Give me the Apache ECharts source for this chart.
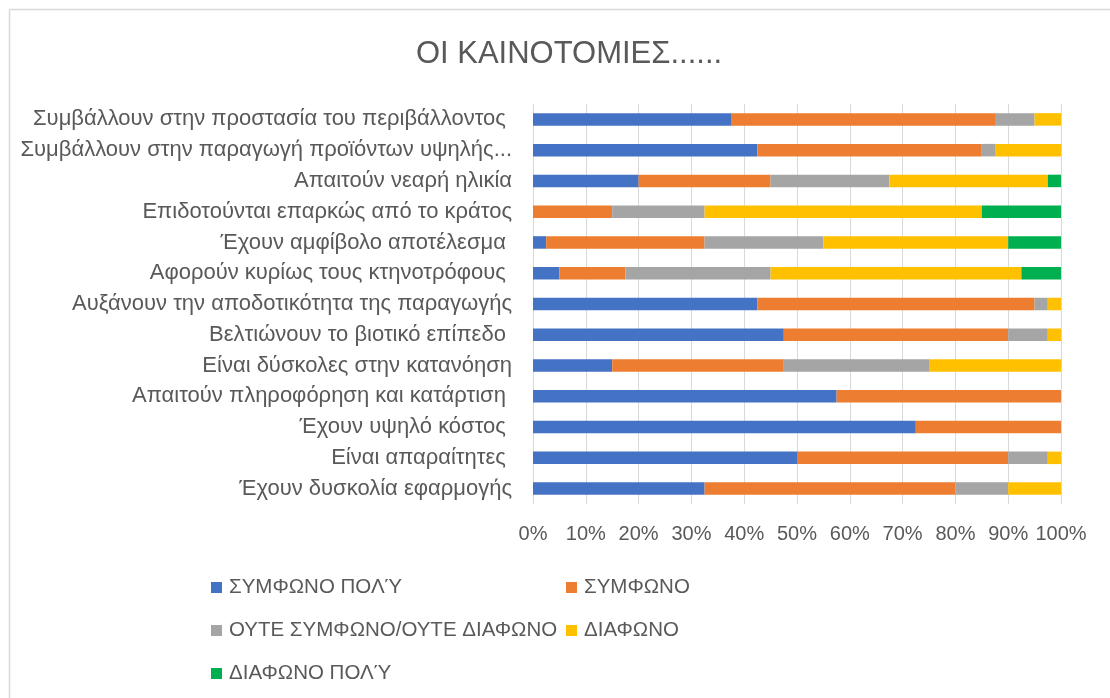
<!DOCTYPE html>
<html>
<head>
<meta charset="utf-8">
<script src="https://cdn.jsdelivr.net/npm/echarts@6/dist/echarts.min.js"></script>
<style>
html, body { margin: 0; padding: 0; background: #fff; }
#main { width: 1110px; height: 698px; }
</style>
</head>
<body>
<div id="main"></div>
<script>
// κατηγορίες (από πάνω προς τα κάτω)
const categories = [
    'Συμβάλλουν στην προστασία του περιβάλλοντος ',
    'Συμβάλλουν στην παραγωγή προϊόντων υψηλής...',
    'Απαιτούν νεαρή ηλικία',
    'Επιδοτούνται επαρκώς από το κράτος',
    'Έχουν αμφίβολο αποτέλεσμα ',
    'Αφορούν κυρίως τους κτηνοτρόφους ',
    'Αυξάνουν την αποδοτικότητα της παραγωγής',
    'Βελτιώνουν το βιοτικό επίπεδο ',
    'Είναι δύσκολες στην κατανόηση',
    'Απαιτούν πληροφόρηση και κατάρτιση ',
    'Έχουν υψηλό κόστος ',
    'Είναι απαραίτητες ',
    'Έχουν δυσκολία εφαρμογής'
]
const seriesNames = ['ΣΥΜΦΩΝΟ ΠΟΛΎ', 'ΣΥΜΦΩΝΟ', 'ΟΥΤΕ ΣΥΜΦΩΝΟ/ΟΥΤΕ ΔΙΑΦΩΝΟ', 'ΔΙΑΦΩΝΟ', 'ΔΙΑΦΩΝΟ ΠΟΛΎ']
const colors = ['#4472C4', '#ED7D31', '#A5A5A5', '#FFC000', '#00B050']

// ποσοστά (%)
const symfonoPoly = [37.5, 42.5, 20, 0, 2.5, 5, 42.5, 47.5, 15, 57.5, 72.5, 50, 32.5]
const symfono = [50, 42.5, 25, 15, 30, 12.5, 52.5, 42.5, 32.5, 42.5, 27.5, 40, 47.5]
const oute = [7.5, 2.5, 22.5, 17.5, 22.5, 27.5, 2.5, 7.5, 27.5, 0, 0, 7.5, 10]
const diafono = [5, 12.5, 30, 52.5, 35, 47.5, 2.5, 2.5, 25, 0, 0, 2.5, 10]
const diafonoPoly = [0, 0, 2.5, 15, 10, 7.5, 0, 0, 0, 0, 0, 0, 0]
const xTicks = [0, 10, 20, 30, 40, 50, 60, 70, 80, 90, 100]

const values = [symfonoPoly, symfono, oute, diafono, diafonoPoly]
const textColor = '#595959'
const font = 'Liberation Sans'

const myEcharts = echarts.init(document.getElementById('main'))

// θέσεις υπομνήματος (2 στήλες)
const legendPos = [
    { left: 206, top: 572 },
    { left: 561, top: 572 },
    { left: 206, top: 615 },
    { left: 561, top: 615 },
    { left: 206, top: 658 }
]

const option = {
    animation: false,
    backgroundColor: '#fff',
    color: colors,
    title: {
        text: 'ΟΙ ΚΑΙΝΟΤΟΜΙΕΣ......',
        left: 564,
        top: 34,
        textAlign: 'center',
        textStyle: { fontFamily: font, fontSize: 31, fontWeight: 'normal', color: textColor }
    },
    // περίγραμμα (μόνο αριστερά και πάνω φαίνεται)
    graphic: [
        { type: 'line', shape: { x1: 9.5, y1: 9.5, x2: 9.5, y2: 698 }, style: { stroke: '#d9d9d9', lineWidth: 1.5 }, silent: true },
        { type: 'line', shape: { x1: 9.5, y1: 9.5, x2: 1110, y2: 9.5 }, style: { stroke: '#d9d9d9', lineWidth: 1.5 }, silent: true }
    ],
    legend: seriesNames.map((n, i) => ({
        data: [n],
        left: legendPos[i].left,
        top: legendPos[i].top,
        icon: 'rect',
        itemWidth: 11,
        itemHeight: 11,
        selectedMode: false,
        textStyle: { fontFamily: font, fontSize: 20.5, color: textColor, padding: [0, 0, 0, 2] }
    })),
    grid: {
        left: 533,
        right: 49,
        top: 104,
        bottom: 194,
        containLabel: false
    },
    xAxis: {
        type: 'value',
        min: 0,
        max: 100,
        interval: 10,
        axisLine: { show: false },
        axisTick: { show: false },
        splitLine: { show: true, lineStyle: { color: '#d9d9d9', width: 1 } },
        axisLabel: {
            margin: 20,
            fontFamily: font,
            fontSize: 20,
            color: textColor,
            formatter: v => xTicks.indexOf(v) >= 0 ? v + '%' : ''
        }
    },
    yAxis: {
        type: 'category',
        inverse: true,
        data: categories,
        axisLine: { show: true, lineStyle: { color: '#d9d9d9', width: 1 } },
        axisTick: { show: false },
        axisLabel: {
            margin: 21,
            fontFamily: font,
            fontSize: 22,
            color: textColor
        }
    },
    series: seriesNames.map((n, i) => ({
        name: n,
        type: 'bar',
        stack: 'total',
        barWidth: 12.5,
        data: values[i],
        itemStyle: { color: colors[i] }
    }))
}

myEcharts.setOption(option)
window.addEventListener('resize', () => {
    myEcharts.resize()
})
</script>
</body>
</html>
